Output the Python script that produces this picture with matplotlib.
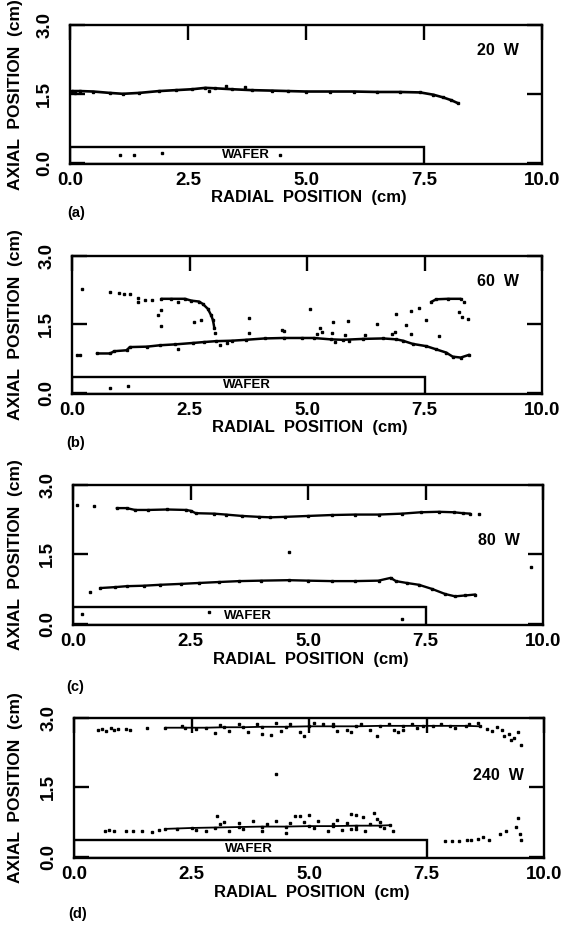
import matplotlib
matplotlib.use('Agg')
import matplotlib.pyplot as plt
from matplotlib.patches import Rectangle

plt.rcParams['font.family'] = ['Liberation Sans', 'DejaVu Sans']
plt.rcParams['font.weight'] = 'bold'

# ---------------- data ----------------
x_ticks = [0.0, 2.5, 5.0, 7.5, 10.0]
x_tick_labels = ['0.0', '2.5', '5.0', '7.5', '10.0']
y_ticks = [0.0, 1.5, 3.0]
y_tick_labels = ['0.0', '1.5', '3.0']
panel_letters = ['(a)', '(b)', '(c)', '(d)']
power_labels = ['20  W', '60  W', '80  W', '240  W']
wafer_edge = 7.5
wafer_top = 0.35

# (a) 20 W
a_x = [0.04, 0.21, 0.49, 0.84, 1.12, 1.47, 1.89, 2.24, 2.59, 2.87, 3.08, 3.43, 3.85,
       4.27, 4.62, 5.0, 5.51, 6.01, 6.5, 6.99, 7.42, 7.7, 7.91, 8.08, 8.23]
a_y = [1.56, 1.56, 1.55, 1.52, 1.50, 1.52, 1.56, 1.58, 1.60, 1.63, 1.62, 1.60, 1.58,
       1.57, 1.56, 1.55, 1.55, 1.55, 1.54, 1.54, 1.53, 1.48, 1.42, 1.36, 1.29]
a_dot_x = [0.1, 1.05, 1.35, 1.95, 4.45, 2.95, 3.3, 3.7]
a_dot_y = [1.52, 0.16, 0.17, 0.2, 0.17, 1.57, 1.66, 1.64]

# (b) 60 W
b_low_x = [0.53, 0.81, 0.9, 1.16, 1.23, 1.6, 1.87, 2.2, 2.57, 2.8, 3.06, 3.4, 3.7, 4.1,
           4.5, 4.9, 5.14, 5.5, 5.77, 6.2, 6.62, 6.9, 7.04, 7.25, 7.54, 7.75, 7.96, 8.1,
           8.27, 8.45]
b_low_y = [0.86, 0.86, 0.91, 0.93, 1.0, 1.01, 1.04, 1.06, 1.09, 1.11, 1.13, 1.14, 1.16,
           1.19, 1.2, 1.2, 1.2, 1.17, 1.16, 1.18, 1.19, 1.17, 1.14, 1.07, 1.02, 0.95, 0.88,
           0.79, 0.77, 0.83]
b_upl_x = [1.9, 2.1, 2.4, 2.54, 2.7, 2.78, 2.89, 2.96, 3.0, 3.03]
b_upl_y = [2.06, 2.06, 2.06, 2.02, 2.0, 1.95, 1.84, 1.70, 1.59, 1.41]
b_upr_x = [7.64, 7.75, 8.0, 8.27]
b_upr_y = [1.99, 2.05, 2.06, 2.06]
b_dot_x = [0.1, 0.18, 0.21, 0.81, 1.0, 1.1, 1.23, 1.4, 1.4, 1.55, 1.7, 1.83, 1.9, 1.9,
           2.25, 2.6, 2.75, 2.25, 3.05, 3.77, 3.77, 4.47, 5.07, 5.56, 5.88, 5.28, 5.32,
           5.53, 6.48, 6.87, 6.8, 7.22, 6.23, 4.52, 5.21, 5.81, 6.9, 7.1, 7.54, 7.39,
           7.22, 8.35, 8.24, 8.3, 8.42, 7.8, 0.8, 1.2, 3.15, 3.3, 5.6, 5.9]
b_dot_y = [0.82, 0.82, 2.27, 2.22, 2.18, 2.17, 2.16, 2.07, 2.0, 2.03, 2.03, 1.7, 1.47,
           1.81, 1.99, 1.54, 1.59, 0.95, 1.30, 1.63, 1.32, 1.38, 1.84, 1.56, 1.57, 1.41,
           1.33, 1.31, 1.5, 1.34, 1.29, 1.29, 1.27, 1.36, 1.29, 1.26, 1.72, 1.49, 1.59,
           1.86, 1.79, 1.99, 1.76, 1.66, 1.61, 1.24, 0.1, 0.15, 1.05, 1.08, 1.12, 1.13]

# (c) 80 W
c_up_x = [0.93, 1.14, 1.32, 1.6, 2.0, 2.41, 2.51, 2.61, 3.0, 3.25, 3.6, 3.96, 4.2, 4.5,
          5.0, 5.5, 6.0, 6.5, 7.0, 7.4, 7.78, 8.1, 8.3, 8.45]
c_up_y = [2.5, 2.5, 2.46, 2.46, 2.47, 2.46, 2.44, 2.39, 2.38, 2.36, 2.33, 2.31, 2.30,
          2.31, 2.33, 2.35, 2.36, 2.36, 2.38, 2.41, 2.42, 2.41, 2.39, 2.38]
c_low_x = [0.58, 0.9, 1.14, 1.5, 1.85, 2.3, 2.69, 3.1, 3.54, 4.0, 4.59, 5.0, 5.5, 6.0,
           6.5, 6.76, 6.87, 7.1, 7.36, 7.64, 7.92, 8.13, 8.35, 8.56]
c_low_y = [0.77, 0.79, 0.81, 0.82, 0.84, 0.86, 0.88, 0.90, 0.92, 0.93, 0.94, 0.93, 0.92,
           0.92, 0.93, 0.99, 0.92, 0.88, 0.84, 0.75, 0.64, 0.59, 0.61, 0.63]
c_dot_x = [0.08, 0.44, 8.63, 0.37, 4.6, 9.75, 0.2, 2.9, 7.0]
c_dot_y = [2.57, 2.55, 2.37, 0.69, 1.55, 1.23, 0.2, 0.25, 0.1]

# (d) 240 W
d_up_x = [1.94, 2.36, 2.8, 3.2, 3.6, 4.0, 4.5, 5.0, 5.5, 6.0, 6.5, 7.0, 7.43, 7.64,
          8.0, 8.35, 8.64]
d_up_y = [2.79, 2.79, 2.79, 2.80, 2.80, 2.81, 2.81, 2.82, 2.82, 2.82, 2.83, 2.83, 2.83,
          2.83, 2.83, 2.83, 2.82]
d_low_x = [1.94, 2.5, 3.0, 3.5, 4.0, 4.5, 5.0, 5.5, 6.0, 6.5, 6.72]
d_low_y = [0.60, 0.62, 0.63, 0.64, 0.65, 0.65, 0.66, 0.66, 0.67, 0.67, 0.68]
d_dot_x = [0.51, 0.6, 0.69, 0.79, 0.86, 0.93, 1.1, 1.2, 1.56,
           3.0, 3.3, 3.7, 3.9, 4.0, 4.2, 4.4, 4.6, 4.8, 4.9, 5.3, 5.6, 5.9, 6.1, 6.45,
           6.3, 6.7, 7.0, 7.2, 8.4, 8.6, 8.78, 8.9, 9.0, 9.1, 9.25, 9.37, 9.52, 9.44,
           9.29, 9.15, 4.29,
           5.1, 5.5, 5.8, 6.8, 7.3, 7.8, 8.1, 4.3, 3.5, 3.1, 2.6, 2.3, 6.9,
           0.65, 0.75, 0.86, 1.1, 1.25, 1.45, 1.65, 1.8,
           3.04, 3.2, 3.5, 3.8, 4.0, 4.3, 4.5, 4.81, 4.9, 5.0, 5.2, 5.4, 5.6, 5.8, 6.0,
           6.15, 6.39, 6.2, 6.5, 6.78, 3.3, 2.8, 5.7, 6.0,
           2.2, 2.6, 3.1, 3.6, 4.1, 4.6, 5.1, 5.5, 5.9, 6.3, 6.6, 4.7, 5.9, 6.45,
           7.9, 8.05, 8.2, 8.36, 8.44, 8.6, 8.7, 8.83, 9.06, 9.2, 9.4, 9.44, 9.48, 9.52]
d_dot_y = [2.74, 2.76, 2.72, 2.78, 2.74, 2.76, 2.76, 2.75, 2.78,
           2.68, 2.72, 2.70, 2.86, 2.66, 2.64, 2.72, 2.86, 2.70, 2.62, 2.86, 2.72, 2.70,
           2.87, 2.60, 2.75, 2.88, 2.74, 2.88, 2.86, 2.90, 2.76, 2.72, 2.80, 2.73, 2.66,
           2.56, 2.42, 2.70, 2.52, 2.62, 1.79,
           2.90, 2.87, 2.75, 2.75, 2.78, 2.86, 2.78, 2.90, 2.86, 2.84, 2.77, 2.82, 2.70,
           0.56, 0.57, 0.55, 0.56, 0.56, 0.55, 0.54, 0.58,
           0.88, 0.75, 0.72, 0.78, 0.55, 0.78, 0.52, 0.87, 0.75, 0.90, 0.78, 0.55, 0.80,
           0.72, 0.90, 0.86, 0.94, 0.55, 0.75, 0.55, 0.55, 0.55, 0.58, 0.60,
           0.60, 0.58, 0.70, 0.60, 0.70, 0.72, 0.62, 0.70, 0.60, 0.70, 0.62, 0.88, 0.92,
           0.82,
           0.34, 0.33, 0.34, 0.35, 0.37, 0.38, 0.42, 0.37, 0.48, 0.55, 0.65, 0.83, 0.48,
           0.37]

# ---------------- layout ----------------
W, H = 569, 931
fig = plt.figure(figsize=(W / 100, H / 100), dpi=100)
fig.patch.set_facecolor('white')

rects = [(70, 25, 542, 164), (72, 256, 542, 394), (73, 485, 543, 625), (74, 718, 544, 858)]
letter_pos = [(76, 213), (76, 443), (75, 687), (78, 914)]
label_pos = [(8.62, 2.45), (8.62, 2.45), (8.62, 1.8), (8.48, 1.76)]

lines = [
    [(a_x, a_y)],
    [(b_low_x, b_low_y), (b_upl_x, b_upl_y), (b_upr_x, b_upr_y)],
    [(c_up_x, c_up_y), (c_low_x, c_low_y)],
    [(d_up_x, d_up_y), (d_low_x, d_low_y)],
]
dots = [(a_dot_x, a_dot_y), (b_dot_x, b_dot_y), (c_dot_x, c_dot_y), (d_dot_x, d_dot_y)]
line_w = [1.9, 1.8, 1.7, 1.3]

for i, (l, t, r, b) in enumerate(rects):
    ax = fig.add_axes([l / W, 1 - b / H, (r - l) / W, (b - t) / H])
    ax.set_xlim(0, 10)
    ax.set_ylim(-0.03, 3.0)
    for s in ax.spines.values():
        s.set_linewidth(1.7)
    ax.set_xticks(x_ticks)
    ax.set_xticklabels(x_tick_labels)
    ax.set_yticks(y_ticks)
    ax.set_yticklabels(y_tick_labels, rotation=90, va='center')
    ax.tick_params(axis='x', bottom=False, top=True, labelbottom=True, direction='in',
                   length=11, width=1.7, labelsize=13.5, pad=5.5)
    ax.tick_params(axis='y', left=True, right=True, direction='in',
                   length=11, width=1.7, labelsize=13.5, pad=12)
    for lab in ax.get_xticklabels() + ax.get_yticklabels():
        lab.set_fontweight('bold')

    for xs, ys in lines[i]:
        ax.plot(xs, ys, color='black', lw=line_w[i], marker='s', ms=1.5,
                solid_capstyle='round')
    dx, dy = dots[i]
    ax.plot(dx, dy, linestyle='none', marker='s', ms=1.9, color='black')

    ax.add_patch(Rectangle((0, -0.03), wafer_edge, wafer_top + 0.03, fill=False,
                           ec='black', lw=1.7))
    ax.text(3.73, 0.17, 'WAFER', fontsize=9.5, fontweight='bold', ha='center', va='center')
    px, py = label_pos[i]
    ax.text(px, py, power_labels[i], fontsize=11.5, fontweight='bold', ha='left', va='center')

    ax.set_xlabel('RADIAL  POSITION  (cm)', fontsize=12, fontweight='bold')
    ax.xaxis.set_label_coords(0.506, -0.19)
    fig.text(16 / W, 1 - ((t + b) / 2) / H, 'AXIAL  POSITION  (cm)', rotation=90,
             fontsize=12.5, fontweight='bold', ha='center', va='center')
    lx, ly = letter_pos[i]
    fig.text(lx / W, 1 - ly / H, panel_letters[i], fontsize=10.5, fontweight='bold',
             ha='center', va='center')

fig.savefig('out.png', dpi=100, facecolor='white')
